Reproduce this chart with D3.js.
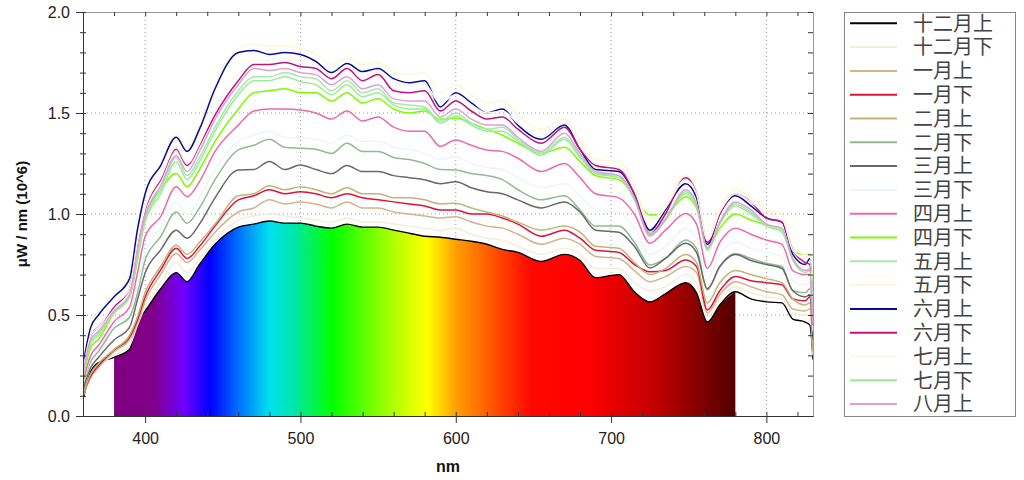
<!DOCTYPE html>
<html>
<head>
<meta charset="utf-8">
<script src="https://cdn.jsdelivr.net/npm/d3@7"></script>
<style>
body { margin: 0; background: #fff; }
</style>
</head>
<body>
<svg id="chart" width="1024" height="480"></svg>
<script>
// wavelengths (nm) shared by every series
var wavelengths = [360, 365, 370, 380, 390, 395, 400, 410, 420, 427, 435, 445, 460, 470, 480, 490, 500, 510, 520, 530,
  540, 550, 560, 570, 580, 590, 600, 610, 620, 630, 640, 655, 670, 680, 690, 705, 715, 725, 735, 748,
  755, 762, 770, 780, 790, 800, 810, 817, 825, 828, 830];

// readings, uW / nm (10^6)
var dec1 = [0.08, 0.22, 0.265, 0.29, 0.33, 0.47, 0.52, 0.63, 0.71, 0.665, 0.75, 0.85, 0.935, 0.95, 0.965, 0.955, 0.955, 0.94, 0.93, 0.95,
  0.935, 0.935, 0.92, 0.905, 0.89, 0.885, 0.875, 0.865, 0.85, 0.825, 0.81, 0.765, 0.80, 0.77, 0.685, 0.70, 0.615, 0.565, 0.605, 0.66,
  0.61, 0.465, 0.55, 0.615, 0.58, 0.565, 0.56, 0.48, 0.465, 0.45, 0.28];
var dec2 = [0.10, 0.20, 0.25, 0.30, 0.35, 0.45, 0.54, 0.66, 0.76, 0.71, 0.78, 0.87, 0.97, 0.99, 1.00, 0.99, 0.98, 0.97, 0.96, 0.98,
  0.96, 0.96, 0.95, 0.94, 0.93, 0.92, 0.93, 0.90, 0.88, 0.87, 0.84, 0.80, 0.83, 0.80, 0.73, 0.73, 0.66, 0.62, 0.64, 0.70,
  0.66, 0.49, 0.58, 0.64, 0.61, 0.59, 0.58, 0.51, 0.50, 0.50, 0.30];
var jan1 = [0.10, 0.19, 0.24, 0.318, 0.38, 0.46, 0.57, 0.70, 0.805, 0.76, 0.82, 0.91, 1.01, 1.03, 1.07, 1.05, 1.06, 1.05, 1.03, 1.06,
  1.03, 1.03, 1.01, 1.00, 0.99, 0.98, 0.987, 0.96, 0.94, 0.93, 0.90, 0.85, 0.88, 0.85, 0.79, 0.78, 0.72, 0.665, 0.69, 0.74,
  0.71, 0.51, 0.60, 0.665, 0.64, 0.615, 0.60, 0.53, 0.52, 0.53, 0.32];
var jan2 = [0.11, 0.20, 0.25, 0.327, 0.39, 0.475, 0.59, 0.723, 0.83, 0.78, 0.84, 0.94, 1.07, 1.09, 1.12, 1.10, 1.11, 1.10, 1.08, 1.10,
  1.08, 1.07, 1.06, 1.05, 1.04, 1.02, 1.02, 1.00, 1.00, 0.98, 0.95, 0.89, 0.92, 0.88, 0.82, 0.81, 0.75, 0.714, 0.72, 0.772,
  0.74, 0.525, 0.62, 0.69, 0.67, 0.66, 0.65, 0.58, 0.57, 0.59, 0.35];
var feb1 = [0.11, 0.21, 0.26, 0.33, 0.40, 0.49, 0.61, 0.74, 0.845, 0.80, 0.86, 0.95, 1.09, 1.10, 1.14, 1.12, 1.135, 1.12, 1.10, 1.13,
  1.10, 1.10, 1.08, 1.08, 1.07, 1.05, 1.053, 1.03, 1.01, 0.99, 0.96, 0.92, 0.94, 0.91, 0.84, 0.83, 0.76, 0.70, 0.73, 0.80,
  0.76, 0.56, 0.66, 0.72, 0.70, 0.68, 0.66, 0.58, 0.55, 0.56, 0.33];
var feb2 = [0.15, 0.27, 0.32, 0.434, 0.49, 0.607, 0.772, 0.888, 1.01, 0.954, 1.03, 1.17, 1.317, 1.34, 1.37, 1.33, 1.325, 1.32, 1.30, 1.35,
  1.31, 1.31, 1.28, 1.27, 1.25, 1.22, 1.218, 1.20, 1.19, 1.17, 1.12, 1.07, 1.09, 1.02, 0.94, 0.94, 0.86, 0.748, 0.78, 0.871,
  0.83, 0.624, 0.74, 0.805, 0.78, 0.756, 0.74, 0.62, 0.61, 0.63, 0.40];
var mar1 = [0.13, 0.24, 0.29, 0.376, 0.44, 0.574, 0.708, 0.822, 0.92, 0.88, 0.95, 1.08, 1.218, 1.22, 1.26, 1.22, 1.243, 1.22, 1.20, 1.24,
  1.21, 1.21, 1.19, 1.18, 1.17, 1.15, 1.16, 1.13, 1.11, 1.10, 1.07, 1.03, 1.06, 1.01, 0.92, 0.91, 0.84, 0.733, 0.78, 0.855,
  0.81, 0.63, 0.74, 0.80, 0.77, 0.75, 0.73, 0.62, 0.59, 0.60, 0.38];
var mar2 = [0.16, 0.29, 0.34, 0.45, 0.51, 0.64, 0.81, 0.93, 1.06, 1.00, 1.08, 1.22, 1.36, 1.39, 1.41, 1.38, 1.376, 1.37, 1.35, 1.39,
  1.36, 1.36, 1.33, 1.32, 1.30, 1.27, 1.284, 1.25, 1.23, 1.22, 1.18, 1.13, 1.15, 1.09, 1.02, 1.01, 0.93, 0.80, 0.84, 0.93,
  0.88, 0.68, 0.80, 0.86, 0.83, 0.81, 0.79, 0.67, 0.65, 0.66, 0.42];
var apr1 = [0.17, 0.30, 0.35, 0.467, 0.54, 0.706, 0.888, 0.987, 1.135, 1.086, 1.16, 1.31, 1.44, 1.51, 1.52, 1.52, 1.515, 1.50, 1.47, 1.51,
  1.46, 1.48, 1.43, 1.41, 1.41, 1.335, 1.366, 1.34, 1.317, 1.31, 1.276, 1.21, 1.25, 1.18, 1.10, 1.08, 1.00, 0.855, 0.92, 1.003,
  0.95, 0.731, 0.86, 0.93, 0.90, 0.871, 0.85, 0.72, 0.70, 0.70, 0.45];
var apr2 = [0.19, 0.34, 0.38, 0.51, 0.59, 0.77, 0.98, 1.12, 1.20, 1.135, 1.22, 1.36, 1.52, 1.60, 1.61, 1.62, 1.60, 1.60, 1.56, 1.60,
  1.55, 1.57, 1.52, 1.50, 1.51, 1.47, 1.474, 1.45, 1.42, 1.39, 1.35, 1.30, 1.33, 1.26, 1.19, 1.17, 1.09, 0.995, 1.00, 1.086,
  1.03, 0.83, 0.93, 1.00, 0.97, 0.946, 0.92, 0.81, 0.80, 0.805, 0.59];
var may1 = [0.20, 0.37, 0.41, 0.52, 0.60, 0.80, 0.97, 1.12, 1.28, 1.19, 1.28, 1.43, 1.61, 1.68, 1.68, 1.70, 1.68, 1.67, 1.61, 1.66,
  1.60, 1.62, 1.55, 1.54, 1.53, 1.46, 1.50, 1.45, 1.42, 1.43, 1.37, 1.30, 1.38, 1.29, 1.20, 1.19, 1.08, 0.91, 0.98, 1.11,
  1.05, 0.84, 0.96, 1.05, 1.01, 0.95, 0.92, 0.78, 0.72, 0.73, 0.48];
var may2 = [0.26, 0.48, 0.52, 0.61, 0.70, 0.93, 1.11, 1.25, 1.39, 1.33, 1.44, 1.64, 1.82, 1.84, 1.83, 1.83, 1.82, 1.79, 1.74, 1.77,
  1.74, 1.75, 1.70, 1.69, 1.70, 1.60, 1.64, 1.59, 1.55, 1.56, 1.49, 1.42, 1.47, 1.37, 1.27, 1.26, 1.15, 0.96, 1.05, 1.19,
  1.12, 0.89, 1.03, 1.12, 1.08, 1.02, 1.00, 0.84, 0.80, 0.81, 0.52];
var jun1 = [0.25, 0.44, 0.50, 0.59, 0.68, 0.92, 1.10, 1.24, 1.38, 1.31, 1.42, 1.62, 1.80, 1.81, 1.79, 1.80, 1.79, 1.755, 1.70, 1.745,
  1.705, 1.72, 1.67, 1.65, 1.66, 1.53, 1.60, 1.55, 1.50, 1.52, 1.44, 1.37, 1.44, 1.32, 1.22, 1.21, 1.10, 0.92, 1.02, 1.15,
  1.08, 0.85, 1.00, 1.09, 1.04, 0.98, 0.96, 0.80, 0.75, 0.78, 0.50];
var jun2 = [0.22, 0.40, 0.44, 0.54, 0.63, 0.85, 1.02, 1.17, 1.32, 1.24, 1.34, 1.49, 1.66, 1.74, 1.74, 1.75, 1.73, 1.72, 1.67, 1.72,
  1.66, 1.69, 1.61, 1.60, 1.61, 1.51, 1.56, 1.51, 1.47, 1.48, 1.42, 1.35, 1.43, 1.32, 1.24, 1.22, 1.10, 0.90, 1.00, 1.18,
  1.10, 0.86, 1.00, 1.10, 1.06, 0.98, 0.96, 0.82, 0.76, 0.75, 0.45];
var jul1 = [0.22, 0.40, 0.44, 0.55, 0.63, 0.86, 1.03, 1.18, 1.33, 1.25, 1.35, 1.52, 1.70, 1.76, 1.76, 1.77, 1.75, 1.73, 1.69, 1.73,
  1.69, 1.70, 1.65, 1.64, 1.64, 1.55, 1.59, 1.54, 1.50, 1.51, 1.45, 1.38, 1.45, 1.35, 1.25, 1.24, 1.12, 0.94, 1.03, 1.17,
  1.10, 0.87, 1.01, 1.10, 1.06, 1.00, 0.98, 0.82, 0.78, 0.79, 0.50];
var jul2 = [0.20, 0.36, 0.40, 0.51, 0.59, 0.78, 0.96, 1.10, 1.26, 1.17, 1.26, 1.41, 1.59, 1.66, 1.66, 1.68, 1.655, 1.64, 1.59, 1.64,
  1.58, 1.60, 1.54, 1.52, 1.52, 1.45, 1.485, 1.44, 1.41, 1.41, 1.36, 1.29, 1.37, 1.28, 1.20, 1.18, 1.07, 0.90, 0.97, 1.10,
  1.04, 0.82, 0.95, 1.04, 1.00, 0.94, 0.91, 0.77, 0.71, 0.72, 0.48];
var aug1 = [0.21, 0.38, 0.42, 0.52, 0.60, 0.82, 0.99, 1.14, 1.29, 1.21, 1.31, 1.47, 1.64, 1.72, 1.71, 1.72, 1.70, 1.69, 1.64, 1.68,
  1.62, 1.64, 1.57, 1.56, 1.56, 1.48, 1.52, 1.47, 1.44, 1.44, 1.38, 1.31, 1.40, 1.30, 1.21, 1.19, 1.08, 0.89, 0.97, 1.12,
  1.05, 0.83, 0.96, 1.06, 1.02, 0.95, 0.93, 0.78, 0.72, 0.72, 0.45];

var seriesNames = ["十二月上", "十二月下", "一月上", "一月下", "二月上", "二月下", "三月上", "三月下", "四月上",
  "四月下", "五月上", "五月下", "六月上", "六月下", "七月上", "七月下", "八月上"];
var seriesValues = [dec1, dec2, jan1, jan2, feb1, feb2, mar1, mar2, apr1, apr2, may1, may2, jun1, jun2, jul1, jul2, aug1];
var seriesColors = ["#000000", "#f3eedb", "#d2b48c", "#dc143c", "#c2b478", "#8fbc8f", "#696969", "#eef4fb", "#ee6aa7",
  "#7cfc00", "#a8e8a8", "#fbf8d8", "#0a0a9a", "#c0157f", "#fcf7ec", "#98ee98", "#dda0dd"];

var xTicks = [400, 500, 600, 700, 800];
var yTicks = [0, 0.5, 1.0, 1.5, 2.0];
var spectrumRange = [380, 780];

// colour stops of the visible-spectrum fill under the first curve
var spectrumStops = [[380, "#800080"], [405, "#800088"], [425, "#7000ff"], [442, "#0000ff"], [460, "#0070ff"],
  [480, "#00e0f0"], [495, "#00e6b0"], [520, "#00ff00"], [545, "#70ff00"], [570, "#d8ff00"], [582, "#ffff00"],
  [600, "#ffa000"], [625, "#ff5000"], [648, "#ff0800"], [685, "#ff0000"], [730, "#c00000"], [780, "#500000"]];

// plot box (window.top is reserved, so the names carry a prefix)
var pLeft = 83, pRight = 813, pTop = 12, pBottom = 416;
var svg = d3.select("#chart");

var x = d3.scaleLinear().domain([360, 830]).range([pLeft, pRight]);
var y = d3.scaleLinear().domain([0, 2]).range([pBottom, pTop]);

var defs = svg.append("defs");
defs.append("clipPath").attr("id", "plotClip")
  .append("rect").attr("x", pLeft).attr("y", pTop).attr("width", pRight - pLeft).attr("height", pBottom - pTop);

var grad = defs.append("linearGradient").attr("id", "spectrum")
  .attr("gradientUnits", "userSpaceOnUse")
  .attr("x1", x(spectrumRange[0])).attr("x2", x(spectrumRange[1])).attr("y1", 0).attr("y2", 0);
spectrumStops.forEach(function (s) {
  grad.append("stop")
    .attr("offset", (s[0] - spectrumRange[0]) / (spectrumRange[1] - spectrumRange[0]))
    .attr("stop-color", s[1]);
});

// dotted grid
svg.selectAll(".gx").data(xTicks).enter().append("line")
  .attr("x1", function (d) { return x(d); }).attr("x2", function (d) { return x(d); })
  .attr("y1", pTop).attr("y2", pBottom)
  .attr("stroke", "#999").attr("stroke-dasharray", "1,3");
svg.selectAll(".gy").data([0.5, 1.0, 1.5]).enter().append("line")
  .attr("x1", pLeft).attr("x2", pRight)
  .attr("y1", function (d) { return y(d); }).attr("y2", function (d) { return y(d); })
  .attr("stroke", "#999").attr("stroke-dasharray", "1,3");

var plot = svg.append("g").attr("clip-path", "url(#plotClip)");

// spectrum fill below the first series
var fillPts = [];
wavelengths.forEach(function (w, i) {
  if (w >= spectrumRange[0] && w <= spectrumRange[1]) fillPts.push([w, dec1[i]]);
});
plot.append("path")
  .datum(fillPts)
  .attr("fill", "url(#spectrum)")
  .attr("d", d3.area()
    .x(function (d) { return x(d[0]); })
    .y0(y(0))
    .y1(function (d) { return y(d[1]); })
    .curve(d3.curveMonotoneX));

var line = d3.line()
  .x(function (d) { return x(d[0]); })
  .y(function (d) { return y(d[1]); })
  .curve(d3.curveMonotoneX);

seriesValues.forEach(function (vals, k) {
  plot.append("path")
    .datum(wavelengths.map(function (w, i) { return [w, vals[i]]; }))
    .attr("fill", "none")
    .attr("stroke", seriesColors[k])
    .attr("stroke-width", k == 0 ? 1.4 : 1.5)
    .attr("stroke-linejoin", "round")
    .attr("d", line);
});

// axes
var xMinor = d3.range(360, 831, 20);
var yMinor = d3.range(0, 2.001, 0.1);

function styleAxis(g, col) {
  g.selectAll("path").attr("stroke", col);
  g.selectAll("line").attr("stroke", "#333");
  g.selectAll("text").attr("font-family", "'Liberation Sans', Arial, sans-serif")
    .attr("font-size", 16).attr("fill", "#222");
}

svg.append("g").attr("transform", "translate(0," + pTop + ")")
  .call(d3.axisTop(x).tickValues(xMinor).tickSize(-4).tickSizeOuter(0).tickFormat(""))
  .call(styleAxis, "#999");
svg.append("g").attr("transform", "translate(" + pRight + ",0)")
  .call(d3.axisRight(y).tickValues(yMinor).tickSize(-5).tickSizeOuter(0).tickFormat(""))
  .call(styleAxis, "#999");

svg.append("g").attr("transform", "translate(0," + pBottom + ")")
  .call(d3.axisBottom(x).tickValues(xMinor).tickSize(-4).tickSizeOuter(0).tickFormat(""))
  .call(styleAxis, "#333");
svg.append("g").attr("transform", "translate(0," + pBottom + ")")
  .call(d3.axisBottom(x).tickValues(xTicks).tickSize(7).tickSizeOuter(0).tickPadding(10).tickFormat(d3.format("d")))
  .call(styleAxis, "#333");

svg.append("g").attr("transform", "translate(" + pLeft + ",0)")
  .call(d3.axisLeft(y).tickValues(yMinor).tickSize(-3).tickSizeOuter(0).tickFormat(""))
  .call(styleAxis, "#333");
svg.append("g").attr("transform", "translate(" + pLeft + ",0)")
  .call(d3.axisLeft(y).tickValues(yMinor).tickSize(3).tickSizeOuter(0).tickFormat(""))
  .call(styleAxis, "#333");
svg.append("g").attr("transform", "translate(" + pLeft + ",0)")
  .call(d3.axisLeft(y).tickValues(yTicks).tickSize(7).tickSizeOuter(0).tickPadding(6).tickFormat(d3.format(".1f")))
  .call(styleAxis, "#333");

// axis titles
svg.append("text")
  .attr("x", (pLeft + pRight) / 2).attr("y", 472)
  .attr("text-anchor", "middle")
  .attr("font-family", "'Liberation Sans', Arial, sans-serif")
  .attr("font-size", 16).attr("font-weight", "bold").attr("fill", "#111")
  .text("nm");
svg.append("text")
  .attr("transform", "translate(27,214) rotate(-90)")
  .attr("text-anchor", "middle")
  .attr("font-family", "'Liberation Sans', Arial, sans-serif")
  .attr("font-size", 15).attr("font-weight", "bold").attr("fill", "#111")
  .text("μW / nm (10^6)");

// legend
var legend = svg.append("g");
legend.append("rect")
  .attr("x", 844.5).attr("y", 12.5).attr("width", 171).attr("height", 404)
  .attr("fill", "#fff").attr("stroke", "#888");
seriesNames.forEach(function (name, k) {
  var ly = 23.3 + k * 23.8;
  legend.append("line")
    .attr("x1", 850).attr("x2", 897).attr("y1", ly).attr("y2", ly)
    .attr("stroke", seriesColors[k]).attr("stroke-width", 2);
  legend.append("text")
    .attr("x", 913).attr("y", ly)
    .attr("dy", "0.36em")
    .attr("font-family", "'Noto Sans CJK SC', sans-serif")
    .attr("font-size", 20).attr("fill", "#444")
    .text(name);
});
</script>
</body>
</html>
